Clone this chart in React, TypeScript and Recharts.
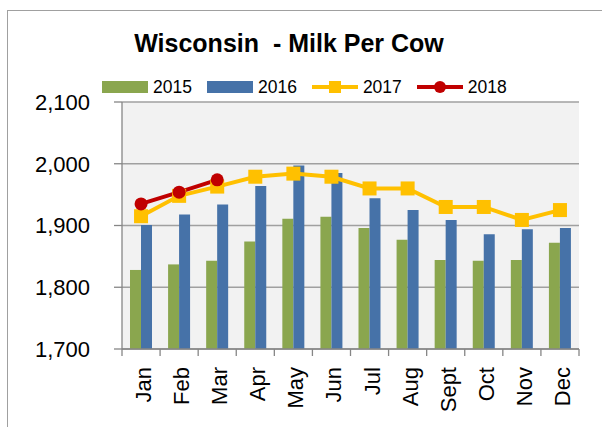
import { ComposedChart, Bar, Line, CartesianGrid, XAxis, YAxis, Legend } from 'recharts';

const months = ['Jan', 'Feb', 'Mar', 'Apr', 'May', 'Jun', 'Jul', 'Aug', 'Sept', 'Oct', 'Nov', 'Dec'];
const milk2015 = [1828, 1837, 1843, 1874, 1911, 1914, 1896, 1877, 1844, 1843, 1844, 1872];
const milk2016 = [1901, 1918, 1934, 1964, 1997, 1985, 1944, 1925, 1909, 1886, 1894, 1896];
const milk2017 = [1915, 1948, 1963, 1979, 1984, 1979, 1960, 1960, 1930, 1930, 1909, 1925];
const milk2018 = [1935, 1954, 1974, null, null, null, null, null, null, null, null, null];
const yTicks = [1700, 1800, 1900, 2000, 2100];

const data = months.map((month, i) => ({
  month,
  y2015: milk2015[i],
  y2016: milk2016[i],
  y2017: milk2017[i],
  y2018: milk2018[i],
}));

const GREEN = '#8aa64e';
const BLUE = '#4672a8';
const YELLOW = '#ffc000';
const RED = '#c00000';
const AXIS = '#868686';
const FONT = '"Liberation Sans", Arial, sans-serif';

const legendItems = [
  { name: '2015', color: GREEN, kind: 'bar' },
  { name: '2016', color: BLUE, kind: 'bar' },
  { name: '2017', color: YELLOW, kind: 'square' },
  { name: '2018', color: RED, kind: 'circle' },
];

function SquareDot(props: any) {
  const { cx, cy, index } = props;
  if (cx == null || cy == null) return <g key={`sq-${index}`} />;
  return <rect key={`sq-${index}`} x={cx - 7} y={cy - 7} width={14} height={14} fill={YELLOW} />;
}

function MonthTick(props: any) {
  const { x, y, payload, index, visibleTicksCount } = props;
  const half = payload.offset || 19;
  const last = index === (visibleTicksCount ?? months.length) - 1;
  return (
    <g>
      <line x1={x - half} x2={x - half} y1={y} y2={y + 7} stroke={AXIS} strokeWidth={1.3} />
      {last && <line x1={x + half} x2={x + half} y1={y} y2={y + 7} stroke={AXIS} strokeWidth={1.3} />}
      <text
        x={x + 10}
        y={y + 18}
        transform={`rotate(-90, ${x + 10}, ${y + 18})`}
        textAnchor="end"
        fontSize={22}
        fill="#000"
      >
        {payload.value}
      </text>
    </g>
  );
}

function LegendBox() {
  return (
    <div style={{ display: 'flex', height: 27, alignItems: 'flex-start', fontFamily: FONT, fontSize: 17.5, lineHeight: '24px' }}>
      {legendItems.map((it) => (
        <div key={it.name} style={{ display: 'flex', alignItems: 'center', marginRight: 15 }}>
          <svg width={46} height={24} style={{ marginRight: 5 }}>
            {it.kind === 'bar' && <rect x={0} y={6} width={46} height={12} fill={it.color} />}
            {it.kind !== 'bar' && <line x1={0} x2={46} y1={12} y2={12} stroke={it.color} strokeWidth={4} />}
            {it.kind === 'square' && <rect x={17} y={6} width={12} height={12} fill={it.color} />}
            {it.kind === 'circle' && <circle cx={23} cy={12} r={6} fill={it.color} />}
          </svg>
          <span>{it.name}</span>
        </div>
      ))}
    </div>
  );
}

export default function App() {
  return (
    <div style={{ position: 'fixed', left: 0, top: 0, width: 602, height: 427, overflow: 'hidden', background: '#fff' }}>
      <ComposedChart
        width={602}
        height={427}
        data={data}
        margin={{ top: 75, right: 23, left: 0, bottom: 18 }}
        barGap={0}
        style={{ fontFamily: FONT }}
      >
        <CartesianGrid vertical={false} stroke="#a0a0a0" strokeWidth={1.3} fill="#f2f2f2" />
        <XAxis
          dataKey="month"
          interval={0}
          height={60}
          tickLine={false}
          tickSize={0}
          tickMargin={0}
          axisLine={{ stroke: AXIS, strokeWidth: 1.3 }}
          tick={<MonthTick />}
        />
        <YAxis
          width={122}
          domain={[1700, 2100]}
          ticks={yTicks}
          interval={0}
          tickSize={8}
          tickMargin={24}
          tickLine={{ stroke: AXIS, strokeWidth: 1.3 }}
          axisLine={{ stroke: AXIS, strokeWidth: 1.3 }}
          tick={{ fill: '#000', fontSize: 22 }}
          tickFormatter={(v: number) => v.toLocaleString('en-US')}
        />
        <Legend
          verticalAlign="top"
          content={<LegendBox />}
          wrapperStyle={{ left: 102, top: 75, width: 440 }}
        />
        <Bar dataKey="y2015" name="2015" fill={GREEN} barSize={11} isAnimationActive={false} />
        <Bar dataKey="y2016" name="2016" fill={BLUE} barSize={11} isAnimationActive={false} />
        <Line
          dataKey="y2017"
          name="2017"
          stroke={YELLOW}
          strokeWidth={4}
          dot={SquareDot}
          activeDot={false}
          isAnimationActive={false}
        />
        <Line
          dataKey="y2018"
          name="2018"
          stroke={RED}
          strokeWidth={4}
          dot={{ r: 6.5, fill: RED, stroke: RED, strokeWidth: 0 }}
          activeDot={false}
          isAnimationActive={false}
        />
      </ComposedChart>
      <div
        style={{
          position: 'absolute',
          left: 0,
          top: 31,
          width: 578,
          textAlign: 'center',
          fontFamily: FONT,
          fontWeight: 'bold',
          fontSize: 25,
          lineHeight: '25px',
          whiteSpace: 'pre',
          color: '#000',
        }}
      >
        {'Wisconsin  - Milk Per Cow'}
      </div>
      <div
        style={{
          position: 'absolute',
          left: 7,
          top: 10,
          width: 640,
          height: 460,
          border: '1px solid #a0a0a0',
          pointerEvents: 'none',
        }}
      />
    </div>
  );
}
